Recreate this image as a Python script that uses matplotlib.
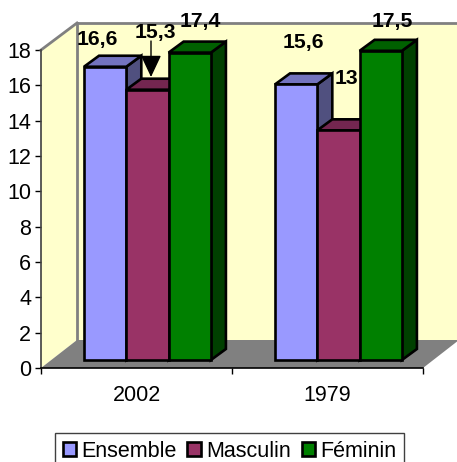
import matplotlib
matplotlib.use('Agg')
import matplotlib.pyplot as plt
from matplotlib.patches import Polygon, Patch

plt.rcParams['font.family'] = ['Liberation Sans', 'DejaVu Sans']

# valeurs du graphique
annees = ['2002', '1979']
series = ['Ensemble', 'Masculin', 'Féminin']
ensemble = [16.6, 15.6]
masculin = [15.3, 13]
feminin = [17.4, 17.5]
etiquettes_y = list(range(0, 19, 2))

couleurs = ['#9999FF', '#993366', '#008000']
dessus = ['#7373BF', '#732650', '#006000']
cotes = ['#50507F', '#4D1933', '#004000']

W, H = 457, 462
fig = plt.figure(figsize=(W / 100, H / 100), dpi=100)
ax = fig.add_axes([41 / W, (H - 368) / H, 382 / W, 318 / H])
ax.set_xlim(0, 2)
ax.set_ylim(0, 18)
ax.patch.set_visible(False)
for s in ax.spines.values():
    s.set_visible(False)


# pixels de l'image -> coordonnees du graphique
def px(x, y):
    return ((x - 41) / 191, (368 - y) / (318 / 18))


def poly(points, **kw):
    ax.add_patch(Polygon([px(*p) for p in points], clip_on=False, **kw))


# murs et sol
poly([(41, 368), (41, 50), (77, 23), (77, 340)], fc='#FFFFCC', ec='none', zorder=1)
poly([(77, 340), (77, 23), (459, 23), (459, 340)], fc='#FFFFCC', ec='none', zorder=1)
poly([(41, 368), (77, 340), (459, 340), (423, 368)], fc='#808080', ec='none', zorder=1.5)
for a, b in [((41, 50), (77, 23)), ((77, 23), (459, 23)), ((77, 23), (77, 340))]:
    (x0, y0), (x1, y1) = px(*a), px(*b)
    ax.plot([x0, x1], [y0, y1], color='#808080', lw=2, clip_on=False, zorder=1.6,
            solid_capstyle='projecting')

# barres 3D
largeur = 42.3 / 191
dx, dy = 15 / 191, 11 / (318 / 18)
base_x, base_y = 11 / 191, 8 / (318 / 18)
valeurs = [ensemble, masculin, feminin]
for j, vals in enumerate(valeurs):
    for i, v in enumerate(vals):
        g = i + (84 - 41) / 191 + j * largeur
        d = g + largeur
        z = 2 + j + i * 4
        top = base_y + v
        kw = dict(ec='black', lw=1.9, joinstyle='miter', clip_on=False, zorder=z)
        ax.add_patch(Polygon([(d, base_y), (d + dx, base_y + dy), (d + dx, top + dy), (d, top)],
                             fc=cotes[j], **kw))
        ax.add_patch(Polygon([(g, top), (g + dx, top + dy), (d + dx, top + dy), (d, top)],
                             fc=dessus[j], **kw))
        ax.bar(g, v, width=largeur, bottom=base_y, align='edge', color=couleurs[j],
               edgecolor='black', linewidth=1.9, clip_on=False, zorder=z)

# etiquettes de donnees
etiquettes = [('16,6', 97, 39), ('15,3', 155, 32), ('17,4', 200, 21),
              ('15,6', 303, 42), ('13', 346, 78), ('17,5', 392, 21)]
for txt, x, y in etiquettes:
    xd, yd = px(x, y)
    ax.text(xd, yd, txt, ha='center', va='center', fontsize=15.2, fontweight='bold',
            color='black', zorder=30, clip_on=False)

# fleche
ax.annotate('', xy=px(151, 77), xytext=px(151, 41), zorder=31,
            arrowprops=dict(arrowstyle='-|>,head_width=0.32,head_length=0.68', color='black',
                            lw=1, shrinkA=0, shrinkB=0, mutation_scale=20))

# axes
ax.plot([0, 0], [0, 18], color='#404040', lw=1.2, clip_on=False, zorder=20)
ax.plot([0, 2], [0, 0], color='black', lw=1.2, clip_on=False, zorder=20)
ax.set_yticks(etiquettes_y)
ax.set_xticks([0, 1, 2])
ax.set_xticks([0.5, 1.5], minor=True)
ax.set_xticklabels([])
ax.set_xticklabels(annees, minor=True)
ax.tick_params(axis='y', length=4, width=1, pad=3, labelsize=15.5)
ax.tick_params(axis='x', which='major', length=4, width=1)
ax.tick_params(axis='x', which='minor', length=0, pad=12, labelsize=15.5)

# legende
poignees = [Patch(fc=c, ec='black', lw=1.9) for c in couleurs]
leg = fig.legend(poignees, series, ncol=3, loc='upper left',
                 bbox_to_anchor=(55 / W, (H - 433) / H), fontsize=15.5,
                 frameon=True, fancybox=False, edgecolor='#404040', framealpha=1,
                 borderpad=0.35, handlelength=0.62, handleheight=0.62,
                 handletextpad=0.25, columnspacing=0.5, borderaxespad=0)
leg.get_frame().set_linewidth(1)

fig.savefig('out.png', dpi=100)
